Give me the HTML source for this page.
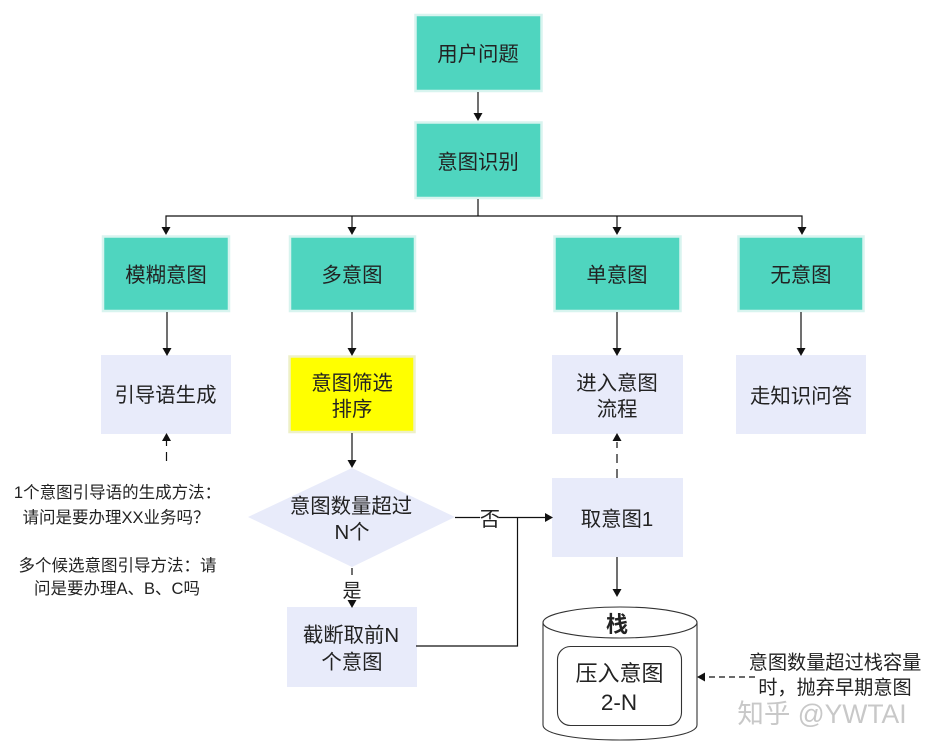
<!DOCTYPE html>
<html>
<head>
<meta charset="utf-8">
<style>
html,body{margin:0;padding:0;background:#fff;width:931px;height:751px;overflow:hidden}
svg{display:block;filter:blur(0.35px)}
text{font-family:"Liberation Sans","Noto Sans CJK SC",sans-serif;fill:#222;text-anchor:middle}
.t{font-size:20.4px}
.n{font-size:16.5px}
</style>
</head>
<body>
<svg width="931" height="751" viewBox="0 0 931 751" xmlns="http://www.w3.org/2000/svg">
<defs>
<g id="a"><path d="M-4.500,-8 L4.500,-8 L0,0 Z" fill="#111"/></g>
</defs>

<!-- green boxes -->
<g fill="#4fd5bf" stroke="#d8f4ef" stroke-width="2.500">
<rect x="415.500" y="15" width="126" height="76"/>
<rect x="415.500" y="122.500" width="126" height="75.500"/>
<rect x="103" y="236.500" width="126" height="74.500"/>
<rect x="290" y="236.500" width="125" height="74.500"/>
<rect x="554.500" y="236.500" width="126" height="74.500"/>
<rect x="738.500" y="236.500" width="125" height="74.500"/>
</g>

<!-- lilac boxes -->
<g fill="#e8ebfa">
<rect x="101" y="355" width="130" height="79"/>
<rect x="552" y="355" width="131" height="79"/>
<rect x="736" y="355" width="130" height="79"/>
<rect x="552" y="478" width="131" height="79"/>
<rect x="287" y="607" width="130" height="80"/>
<path d="M248,517 L352,468 L455,517 L352,567 Z"/>
</g>

<!-- yellow -->
<rect x="289.500" y="356.500" width="125" height="75.500" fill="#ffff00" stroke="#eef0c8" stroke-width="2.500"/>

<!-- connectors -->
<g fill="none" stroke="#111" stroke-width="1.200">
<path d="M478,92V114"/>
<path d="M478,199V216"/>
<path d="M166,228V216H802V228"/>
<path d="M352,216V228"/>
<path d="M617,216V228"/>
<path d="M167,312V349"/>
<path d="M352,312V349"/>
<path d="M617,312V349"/>
<path d="M801,312V349"/>
<path d="M352,433V460"/>
<path d="M455,517.500H480M499,517.500H546"/>
<path d="M517.500,517.500V646H416"/>
<path d="M617,557V590"/>
<path d="M352,568V575"/>
<path d="M617,478V442" stroke-dasharray="9 6"/>
<path d="M166.500,461V440" stroke-dasharray="9 6"/>
<path d="M755,677H706" stroke-dasharray="6 4"/>
</g>
<use href="#a" x="478" y="121"/>
<use href="#a" x="166" y="235"/>
<use href="#a" x="352" y="235"/>
<use href="#a" x="617" y="235"/>
<use href="#a" x="802" y="235"/>
<use href="#a" x="167" y="356"/>
<use href="#a" x="352" y="356"/>
<use href="#a" x="617" y="356"/>
<use href="#a" x="801" y="356"/>
<use href="#a" x="352" y="468"/>
<use href="#a" x="352" y="608"/>
<use href="#a" x="617" y="597"/>
<path d="M553,517.500 L545,513 L545,522 Z" fill="#111"/>
<path d="M166.500,433 L162,441 L171,441 Z" fill="#111"/>
<path d="M617,433 L612.500,441 L621.500,441 Z" fill="#111"/>
<path d="M697,677 L705,672.500 L705,681.500 Z" fill="#111"/>

<!-- cylinder -->
<g fill="#fff" stroke="#333" stroke-width="1.100">
<path d="M543,622.500 V725 C543,745 697,745 697,725 V622.500"/>
<ellipse cx="620" cy="622.500" rx="77" ry="15.500"/>
<rect x="557.500" y="646.500" width="124" height="79" rx="13" ry="13"/>
</g>

<!-- labels -->
<g class="t">
<text x="478" y="61">用户问题</text>
<text x="478" y="169">意图识别</text>
<text x="166" y="282">模糊意图</text>
<text x="352" y="282">多意图</text>
<text x="617" y="282">单意图</text>
<text x="801" y="282">无意图</text>
<text x="165.500" y="402">引导语生成</text>
<text x="352" y="390">意图筛选</text>
<text x="352" y="416">排序</text>
<text x="617" y="390">进入意图</text>
<text x="617" y="416">流程</text>
<text x="801" y="403">走知识问答</text>
<text x="351" y="513">意图数量超过</text>
<text x="352" y="539">N个</text>
<text x="490" y="526">否</text>
<text x="352" y="597" font-size="19">是</text>
<text x="617" y="526">取意图1</text>
<text x="351" y="642">截断取前N</text>
<text x="352" y="669">个意图</text>
<text x="835" y="669" font-size="19.200">意图数量超过栈容量</text>
<text x="835" y="694" font-size="19.200">时，抛弃早期意图</text>
<text x="619.500" y="681" font-size="22">压入意图</text>
<text x="619" y="710" font-size="22.500">2-N</text>
<text x="617" y="632" font-size="22" font-weight="bold">栈</text>
</g>
<g class="n">
<text x="117.500" y="498">1个意图引导语的生成方法：</text>
<text x="116" y="523">请问是要办理XX业务吗？</text>
<text x="117.500" y="571">多个候选意图引导方法：请</text>
<text x="117" y="594">问是要办理A、B、C吗</text>
</g>
<text x="822" y="723" font-size="26.500" style="fill:#c8c8c8">知乎 @YWTAI</text>
</svg>
</body>
</html>
